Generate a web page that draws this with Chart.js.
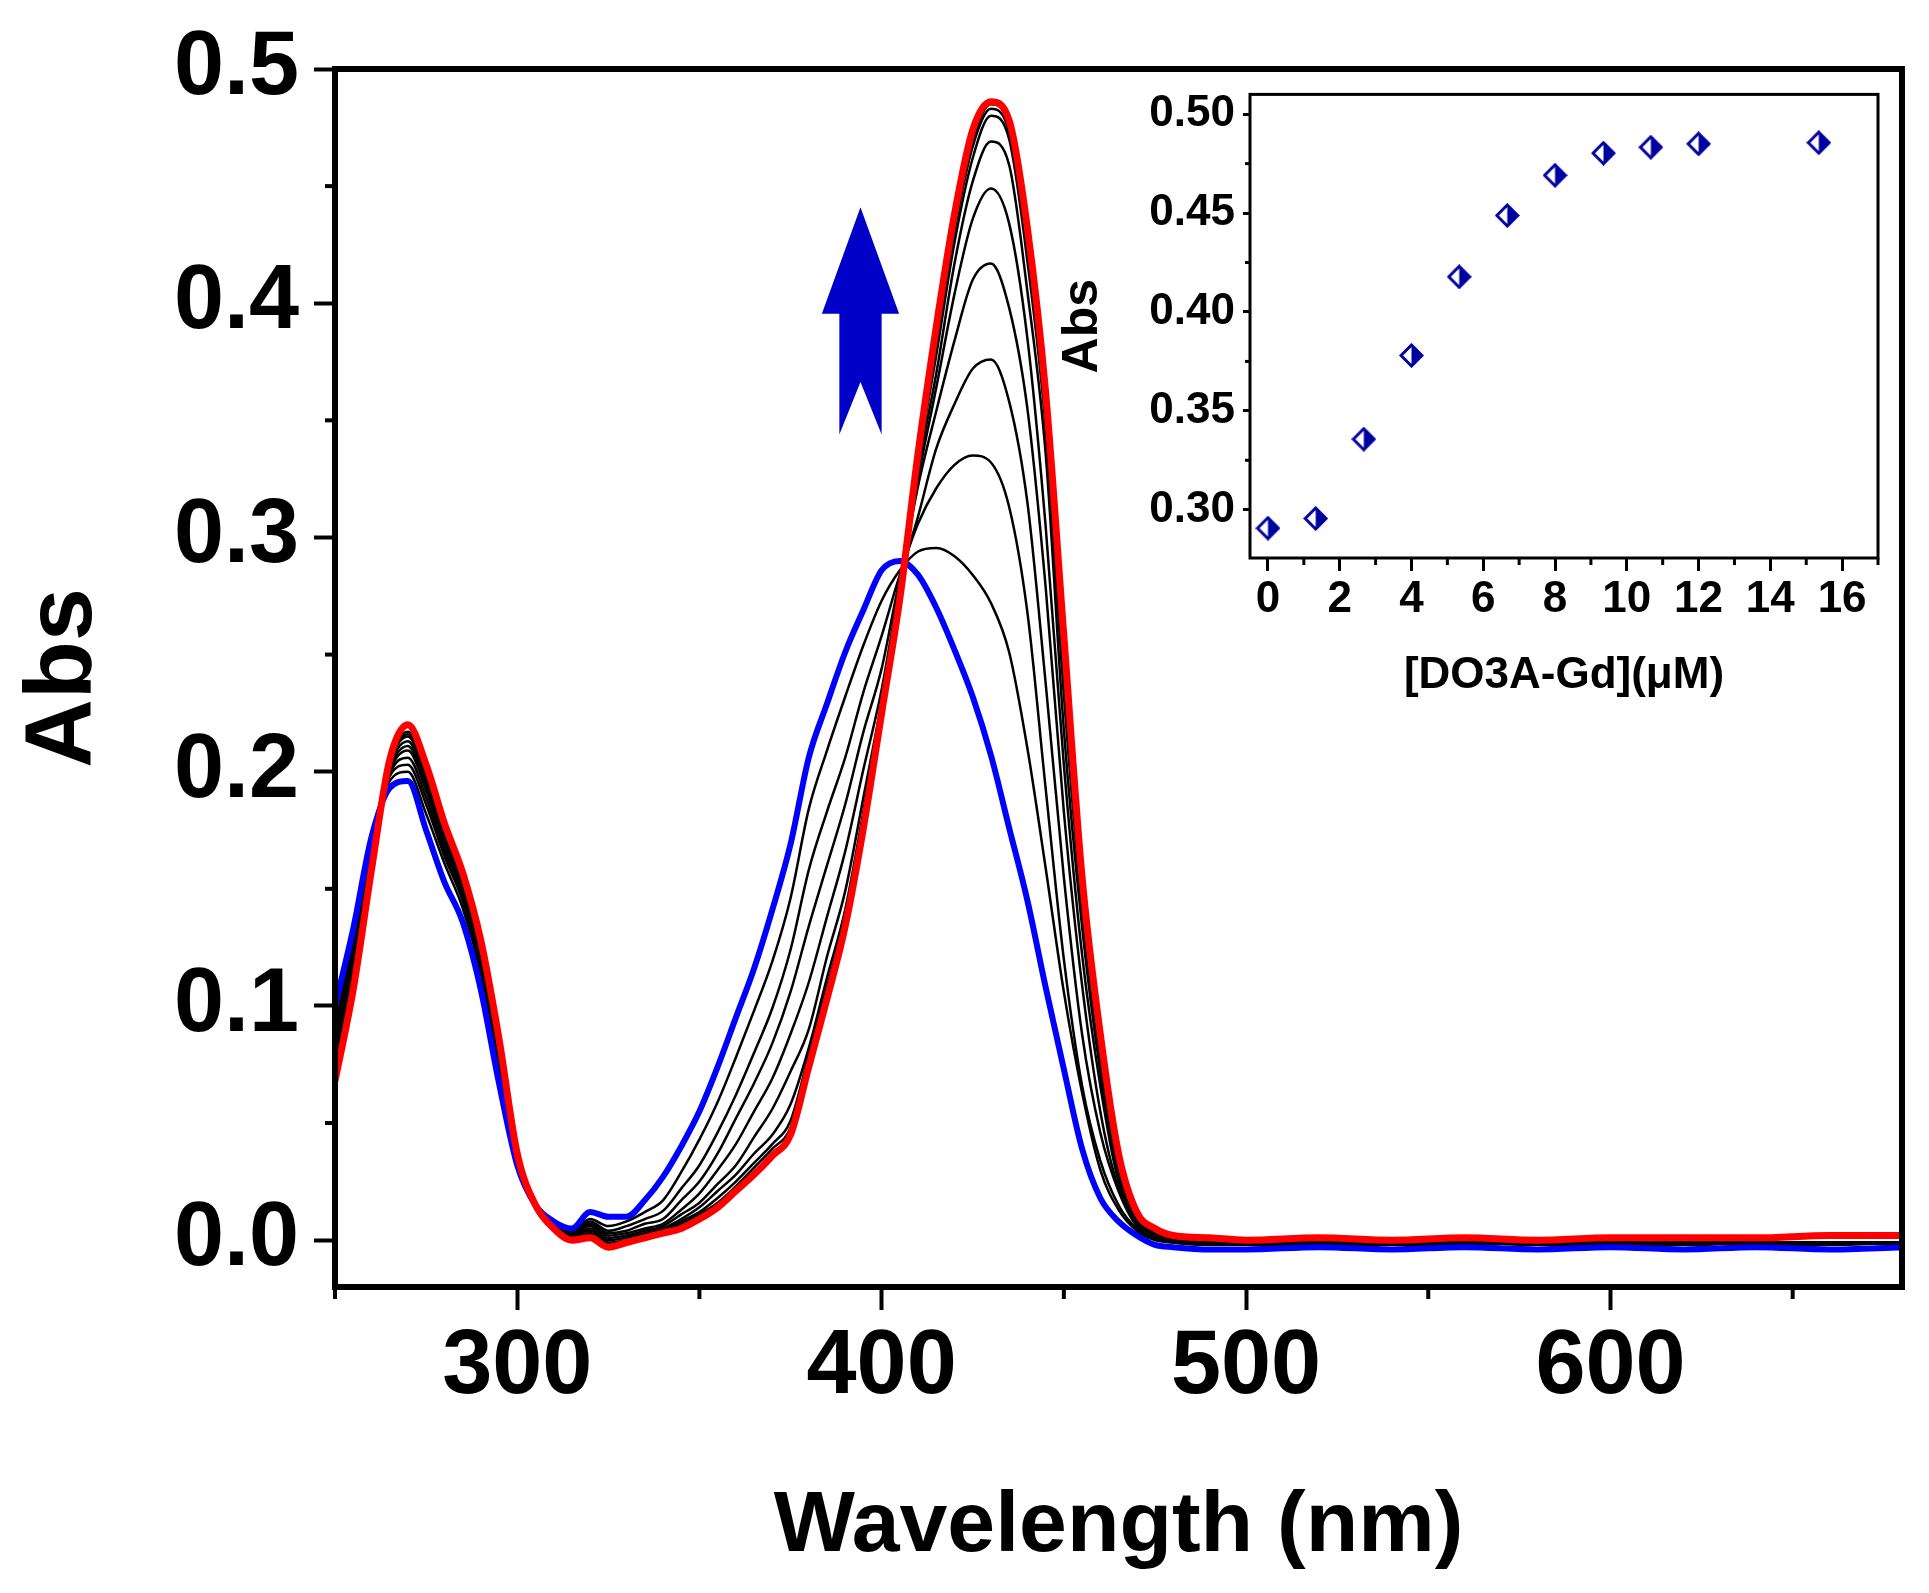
<!DOCTYPE html>
<html>
<head>
<meta charset="utf-8">
<script src="https://cdn.jsdelivr.net/npm/chart.js@4.4.1/dist/chart.umd.min.js"></script>
<style>
  html, body { margin: 0; padding: 0; background: #fff; }
  #wrap { position: relative; width: 1929px; height: 1593px; }
  #main { position: absolute; left: 0; top: 0; }
  #inset { position: absolute; left: 1040px; top: 60px; }
</style>
</head>
<body>
<div id="wrap">
  <canvas id="main" width="1929" height="1593"></canvas>
  <canvas id="inset" width="860" height="680"></canvas>
</div>
<script>
// wavelength grid (nm) shared by every spectrum
const wavelength = [250,255,260,265,270,275,280,285,290,295,300,305,310,315,320,325,330,335,340,345,350,355,360,365,370,375,380,385,390,395,400,405,410,415,420,425,430,435,440,445,450,455,460,465,470,475,480,490,500,520,540,560,580,600,620,640,660,680];

// free ligand (blue) and final spectrum (red)
const absStart = [0.100,0.133,0.172,0.193,0.196,0.175,0.153,0.136,0.107,0.067,0.032,0.015,0.008,0.005,0.012,0.010,0.010,0.017,0.027,0.040,0.055,0.074,0.095,0.116,0.141,0.169,0.206,0.229,0.251,0.269,0.286,0.290,0.284,0.270,0.252,0.232,0.207,0.176,0.145,0.108,0.073,0.039,0.018,0.008,0.002,-0.002,-0.003,-0.004,-0.004,-0.003,-0.004,-0.003,-0.004,-0.003,-0.004,-0.003,-0.004,-0.003];
const absEnd = [0.068,0.107,0.158,0.205,0.220,0.203,0.178,0.157,0.128,0.086,0.037,0.015,0.005,0.000,0.001,-0.003,-0.001,0.001,0.003,0.005,0.009,0.014,0.021,0.028,0.036,0.045,0.074,0.103,0.134,0.176,0.225,0.274,0.336,0.390,0.438,0.474,0.486,0.478,0.432,0.362,0.258,0.155,0.088,0.037,0.012,0.005,0.002,0.001,0.000,0.001,0.000,0.001,0.000,0.001,0.001,0.001,0.002,0.002];

// intermediate titration spectra (black)
const absStep1 = [0.092,0.128,0.170,0.196,0.200,0.182,0.161,0.142,0.114,0.073,0.034,0.015,0.007,0.004,0.009,0.006,0.008,0.012,0.017,0.029,0.043,0.059,0.078,0.098,0.119,0.146,0.184,0.209,0.232,0.254,0.273,0.286,0.294,0.2955,0.292,0.284,0.272,0.251,0.210,0.159,0.106,0.063,0.030,0.013,0.004,0.000,-0.001,-0.002,-0.002,-0.001,-0.002,-0.001,-0.002,-0.002,-0.001,-0.002,-0.001,-0.001];
const absStep2 = [0.089,0.125,0.169,0.198,0.203,0.186,0.164,0.145,0.116,0.075,0.034,0.015,0.007,0.004,0.008,0.004,0.006,0.009,0.0125,0.022,0.032,0.046,0.062,0.080,0.099,0.124,0.158,0.183,0.206,0.234,0.258,0.284,0.306,0.321,0.331,0.335,0.332,0.313,0.268,0.193,0.120,0.066,0.034,0.015,0.005,0.001,-0.001,-0.002,-0.001,-0.002,-0.002,-0.001,-0.001,-0.002,-0.002,-0.001,-0.001,-0.002];
const absStep3 = [0.086,0.122,0.167,0.199,0.206,0.189,0.166,0.147,0.118,0.077,0.035,0.015,0.007,0.003,0.007,0.003,0.004,0.007,0.009,0.017,0.025,0.037,0.052,0.067,0.084,0.106,0.134,0.160,0.186,0.217,0.244,0.282,0.309,0.338,0.357,0.372,0.376,0.358,0.315,0.238,0.155,0.088,0.046,0.021,0.006,0.001,0.000,-0.002,-0.002,-0.002,-0.001,-0.002,-0.001,-0.002,-0.001,-0.002,-0.002,-0.001];
const absStep4 = [0.083,0.119,0.166,0.200,0.209,0.192,0.168,0.148,0.120,0.078,0.035,0.015,0.006,0.003,0.006,0.002,0.003,0.005,0.007,0.013,0.020,0.030,0.041,0.055,0.069,0.088,0.110,0.138,0.166,0.201,0.235,0.280,0.322,0.354,0.384,0.410,0.417,0.398,0.355,0.279,0.183,0.109,0.055,0.022,0.007,0.002,0.000,-0.002,-0.001,-0.002,-0.002,-0.002,-0.001,-0.001,-0.002,-0.001,-0.002,-0.001];
const absStep5 = [0.080,0.117,0.165,0.201,0.211,0.194,0.170,0.149,0.121,0.079,0.035,0.015,0.006,0.002,0.005,0.001,0.002,0.004,0.006,0.011,0.016,0.024,0.032,0.044,0.056,0.072,0.090,0.121,0.149,0.189,0.230,0.278,0.325,0.364,0.404,0.436,0.449,0.434,0.385,0.305,0.203,0.122,0.066,0.025,0.008,0.002,0.000,-0.002,-0.002,-0.001,-0.002,-0.001,-0.002,-0.001,-0.002,-0.001,-0.001,-0.001];
const absStep6 = [0.078,0.115,0.163,0.202,0.213,0.196,0.171,0.150,0.122,0.080,0.036,0.015,0.006,0.002,0.004,0.000,0.001,0.003,0.005,0.009,0.014,0.021,0.028,0.037,0.045,0.058,0.082,0.112,0.141,0.183,0.228,0.277,0.329,0.370,0.417,0.452,0.469,0.459,0.405,0.336,0.218,0.134,0.072,0.028,0.009,0.003,0.001,-0.001,-0.002,-0.001,-0.001,-0.002,-0.001,-0.001,-0.002,-0.001,-0.001,-0.001];
const absStep7 = [0.076,0.113,0.162,0.203,0.215,0.198,0.172,0.151,0.123,0.081,0.036,0.015,0.006,0.001,0.003,-0.001,0.000,0.002,0.004,0.008,0.012,0.018,0.025,0.033,0.041,0.051,0.079,0.108,0.138,0.180,0.227,0.276,0.332,0.378,0.426,0.462,0.480,0.470,0.418,0.347,0.233,0.142,0.078,0.031,0.010,0.003,0.001,-0.001,-0.001,-0.002,-0.001,-0.001,-0.001,-0.002,-0.001,-0.001,-0.001,-0.001];
const absStep8 = [0.074,0.111,0.161,0.204,0.216,0.199,0.173,0.152,0.124,0.082,0.036,0.015,0.005,0.001,0.003,-0.002,-0.001,0.002,0.004,0.007,0.011,0.016,0.023,0.031,0.039,0.048,0.077,0.106,0.136,0.178,0.226,0.275,0.334,0.383,0.431,0.467,0.483,0.473,0.424,0.352,0.243,0.147,0.082,0.033,0.011,0.004,0.001,-0.001,-0.001,-0.001,-0.002,-0.001,-0.001,-0.001,-0.001,-0.001,-0.001,-0.001];
const absStep9 = [0.072,0.109,0.160,0.204,0.217,0.200,0.174,0.153,0.125,0.083,0.036,0.015,0.005,0.001,0.002,-0.002,-0.001,0.001,0.003,0.006,0.010,0.015,0.022,0.029,0.037,0.046,0.075,0.104,0.135,0.177,0.226,0.275,0.335,0.386,0.434,0.470,0.485,0.476,0.428,0.357,0.250,0.150,0.085,0.035,0.011,0.004,0.001,-0.001,-0.001,-0.001,-0.001,-0.001,-0.001,-0.001,-0.001,-0.001,-0.001,-0.001];

// axis ticks of the main plot
const xMajorTicks = [300, 400, 500, 600];
const xMinorTicks = [250, 350, 450, 550, 650];
const yMajorTicks = [0, 0.1, 0.2, 0.3, 0.4, 0.5];
const yMinorTicks = [0.05, 0.15, 0.25, 0.35, 0.45];

// inset: absorbance at the band maximum vs. added DO3A-Gd
const concDO3AGd = [0, 1.33, 2.67, 4.0, 5.33, 6.67, 8.0, 9.35, 10.67, 12.0, 15.35];
const absPeak = [0.2907, 0.2956, 0.3357, 0.378, 0.4178, 0.4488, 0.4691, 0.4803, 0.4833, 0.4850, 0.4856];
const insetXTicks = [0, 2, 4, 6, 8, 10, 12, 14, 16];
const insetXMinor = [1, 3, 5, 7, 9, 11, 13, 15, 17];
const insetYTicks = [0.30, 0.35, 0.40, 0.45, 0.50];
const insetYMinor = [0.325, 0.375, 0.425, 0.475];

const FONT = '"Liberation Sans", Arial, Helvetica, sans-serif';

function toPoints(values) {
  return wavelength.map((w, i) => ({ x: w, y: values[i] }));
}

function spectrum(values, color, width) {
  return {
    data: toPoints(values),
    borderColor: color,
    borderWidth: width,
    pointRadius: 0,
    fill: false,
    cubicInterpolationMode: 'monotone'
  };
}

// frame, minor ticks and the arrow for the main plot
const mainDecor = {
  id: 'mainDecor',
  afterDraw(chart) {
    const { ctx, chartArea: a, scales: { x, y } } = chart;
    ctx.save();
    ctx.strokeStyle = '#000';
    ctx.lineWidth = 4;
    xMinorTicks.forEach(v => {
      const px = x.getPixelForValue(v);
      ctx.beginPath(); ctx.moveTo(px, a.bottom); ctx.lineTo(px, a.bottom + 12); ctx.stroke();
    });
    yMinorTicks.forEach(v => {
      const py = y.getPixelForValue(v);
      ctx.beginPath(); ctx.moveTo(a.left, py); ctx.lineTo(a.left - 10, py); ctx.stroke();
    });
    ctx.lineWidth = 6;
    ctx.strokeRect(a.left, a.top, a.right - a.left, a.bottom - a.top);

    // upward arrow (in data units)
    const X = v => x.getPixelForValue(v), Y = v => y.getPixelForValue(v);
    ctx.fillStyle = '#0000c8';
    ctx.beginPath();
    ctx.moveTo(X(394.2), Y(0.441));
    ctx.lineTo(X(404.8), Y(0.3955));
    ctx.lineTo(X(400.0), Y(0.3955));
    ctx.lineTo(X(400.0), Y(0.344));
    ctx.lineTo(X(394.2), Y(0.3664));
    ctx.lineTo(X(388.4), Y(0.344));
    ctx.lineTo(X(388.4), Y(0.3955));
    ctx.lineTo(X(383.6), Y(0.3955));
    ctx.closePath();
    ctx.fill();
    ctx.restore();
  }
};

const mainChart = new Chart(document.getElementById('main'), {
  type: 'line',
  data: {
    datasets: [
      spectrum(absEnd, '#ff0000', 7),
      spectrum(absStart, '#0000ff', 6),
      spectrum(absStep9, '#000', 2.5),
      spectrum(absStep8, '#000', 2.5),
      spectrum(absStep7, '#000', 2.5),
      spectrum(absStep6, '#000', 2.5),
      spectrum(absStep5, '#000', 2.5),
      spectrum(absStep4, '#000', 2.5),
      spectrum(absStep3, '#000', 2.5),
      spectrum(absStep2, '#000', 2.5),
      spectrum(absStep1, '#000', 2.5)
    ]
  },
  options: {
    responsive: false,
    animation: false,
    devicePixelRatio: 1,
    layout: { autoPadding: false, padding: { top: 60, right: 27, left: 0, bottom: 0 } },
    plugins: { legend: { display: false }, tooltip: { enabled: false } },
    scales: {
      x: {
        type: 'linear',
        min: 250,
        max: 680,
        afterBuildTicks: s => { s.ticks = xMajorTicks.map(v => ({ value: v })); },
        afterFit: s => { s.height = 306; },
        border: { display: false },
        grid: { drawOnChartArea: false, drawTicks: true, tickLength: 23, tickWidth: 4, tickColor: '#000' },
        ticks: { color: '#000', padding: 4, maxRotation: 0, font: { family: FONT, size: 90, weight: 'bold' } },
        title: {
          display: true,
          text: 'Wavelength (nm)',
          color: '#000',
          padding: { top: 0, bottom: 14 },
          font: { family: FONT, size: 86, weight: 'bold' }
        }
      },
      y: {
        min: -0.02,
        max: 0.5,
        afterBuildTicks: s => { s.ticks = yMajorTicks.map(v => ({ value: v })); },
        afterFit: s => { s.width = 335; },
        border: { display: false },
        grid: { drawOnChartArea: false, drawTicks: true, tickLength: 21, tickWidth: 4, tickColor: '#000' },
        ticks: {
          color: '#000',
          padding: 15,
          font: { family: FONT, size: 90, weight: 'bold' },
          callback: v => v.toFixed(1)
        },
        title: {
          display: true,
          text: 'Abs',
          color: '#000',
          padding: { top: 8, bottom: 0 },
          font: { family: FONT, size: 95, weight: 'bold' }
        }
      }
    }
  },
  plugins: [mainDecor]
});

// half-filled diamond marker used in the inset
function halfDiamond(size, color) {
  const c = document.createElement('canvas');
  c.width = size; c.height = size;
  const g = c.getContext('2d');
  const h = size / 2, r = h - 2;
  const path = () => {
    g.beginPath();
    g.moveTo(h, h - r); g.lineTo(h + r, h); g.lineTo(h, h + r); g.lineTo(h - r, h); g.closePath();
  };
  path(); g.fillStyle = '#fff'; g.fill();
  g.beginPath();
  g.moveTo(h, h - r); g.lineTo(h + r, h); g.lineTo(h, h + r); g.closePath();
  g.fillStyle = color; g.fill();
  path(); g.lineWidth = 3; g.strokeStyle = color; g.stroke();
  return c;
}

const insetDecor = {
  id: 'insetDecor',
  afterDraw(chart) {
    const { ctx, chartArea: a, scales: { x, y } } = chart;
    ctx.save();
    ctx.strokeStyle = '#000';
    ctx.lineWidth = 3;
    insetXMinor.forEach(v => {
      const px = x.getPixelForValue(v);
      ctx.beginPath(); ctx.moveTo(px, a.bottom); ctx.lineTo(px, a.bottom + 7); ctx.stroke();
    });
    insetYMinor.forEach(v => {
      const py = y.getPixelForValue(v);
      ctx.beginPath(); ctx.moveTo(a.left, py); ctx.lineTo(a.left - 5, py); ctx.stroke();
    });
    ctx.strokeRect(a.left, a.top, a.right - a.left, a.bottom - a.top);
    ctx.restore();
  }
};

const insetChart = new Chart(document.getElementById('inset'), {
  type: 'scatter',
  data: {
    datasets: [{
      data: concDO3AGd.map((c, i) => ({ x: c, y: absPeak[i] })),
      pointStyle: halfDiamond(25, '#0000a0'),
      pointRadius: 12,
      showLine: false
    }]
  },
  options: {
    responsive: false,
    animation: false,
    devicePixelRatio: 1,
    layout: { autoPadding: false, padding: { top: 18, right: 22, left: 0, bottom: 0 } },
    plugins: { legend: { display: false }, tooltip: { enabled: false } },
    scales: {
      x: {
        type: 'linear',
        min: -0.5,
        max: 17,
        afterBuildTicks: s => { s.ticks = insetXTicks.map(v => ({ value: v })); },
        afterFit: s => { s.height = 182; },
        border: { display: false },
        grid: { drawOnChartArea: false, drawTicks: true, tickLength: 13, tickWidth: 3, tickColor: '#000' },
        ticks: { color: '#000', padding: 2, maxRotation: 0, font: { family: FONT, size: 44, weight: 'bold' } },
        title: {
          display: true,
          text: '[DO3A-Gd](\u03bcM)',
          color: '#000',
          padding: { top: 0, bottom: 38 },
          font: { family: FONT, size: 44, weight: 'bold' }
        }
      },
      y: {
        min: 0.2756,
        max: 0.51,
        afterBuildTicks: s => { s.ticks = insetYTicks.map(v => ({ value: v })); },
        afterFit: s => { s.width = 210; },
        border: { display: false },
        grid: { drawOnChartArea: false, drawTicks: true, tickLength: 7, tickWidth: 3, tickColor: '#000' },
        ticks: {
          color: '#000',
          padding: 8,
          font: { family: FONT, size: 44, weight: 'bold' },
          callback: v => v.toFixed(2)
        },
        title: {
          display: true,
          text: 'Abs',
          color: '#000',
          padding: { top: 13, bottom: 0 },
          font: { family: FONT, size: 50, weight: 'bold' }
        }
      }
    }
  },
  plugins: [insetDecor]
});
</script>
</body>
</html>
